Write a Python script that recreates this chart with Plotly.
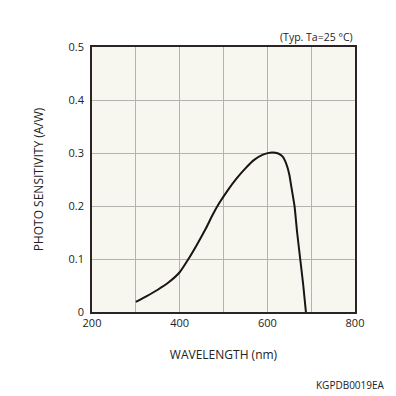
import plotly.graph_objects as go

wavelength = [300, 325, 350, 375, 400, 420, 440, 460, 475, 490, 510, 530, 550, 570, 590, 610, 625, 635, 643, 650, 655, 662, 668, 675, 682, 688]
sensitivity = [0.019, 0.030, 0.042, 0.056, 0.075, 0.100, 0.128, 0.158, 0.183, 0.205, 0.230, 0.252, 0.271, 0.287, 0.297, 0.301, 0.299, 0.293, 0.280, 0.260, 0.235, 0.200, 0.150, 0.100, 0.050, 0.000]

x_ticks = [200, 300, 400, 500, 600, 700, 800]
x_labels = ["200", "", "400", "", "600", "", "800"]
y_ticks = [0, 0.1, 0.2, 0.3, 0.4, 0.5]
y_labels = ["0", "0.1", "0.2", "0.3", "0.4", "0.5"]

FONT = "Open Sans, Noto Sans, DejaVu Sans, sans-serif"

fig = go.Figure()
fig.add_trace(go.Scatter(
    x=wavelength, y=sensitivity, mode="lines",
    line=dict(color="#1a1414", width=2, shape="spline", smoothing=0.6),
    hoverinfo="skip", showlegend=False,
))

fig.update_layout(
    width=392, height=388,
    margin=dict(l=84, r=45, t=39, b=84),
    paper_bgcolor="white",
    plot_bgcolor="#f8f7ef",
    font=dict(family=FONT, size=11, color="#222"),
    xaxis=dict(
        range=[200, 800], tickvals=x_ticks, ticktext=x_labels,
        showgrid=True, gridcolor="#b4b4ae", gridwidth=1,
        showline=True, linecolor="#2a2424", linewidth=1.5, mirror=True,
        ticks="", zeroline=False, ticklen=0,
        title=dict(text="WAVELENGTH (nm)", font=dict(size=12), standoff=22),
    ),
    yaxis=dict(
        range=[0, 0.5], tickvals=y_ticks, ticktext=y_labels,
        showgrid=True, gridcolor="#b4b4ae", gridwidth=1,
        showline=True, linecolor="#2a2424", linewidth=1.5, mirror=True,
        ticks="", zeroline=False, ticklabelstandoff=4,
        title=dict(text="PHOTO SENSITIVITY (A/W)", font=dict(size=12), standoff=22),
    ),
    annotations=[
        dict(text="(Typ. Ta=25 °C)", xref="paper", yref="paper", x=1.0, y=1.0,
             xanchor="right", yanchor="bottom", showarrow=False, yshift=1,
             font=dict(size=10.5)),
        dict(text="KGPDB0019EA", xref="paper", yref="paper", x=1.0, y=0,
             xanchor="right", yanchor="middle", showarrow=False,
             xshift=32, yshift=-73, font=dict(size=10)),
    ],
)

fig.write_html("out.html")
